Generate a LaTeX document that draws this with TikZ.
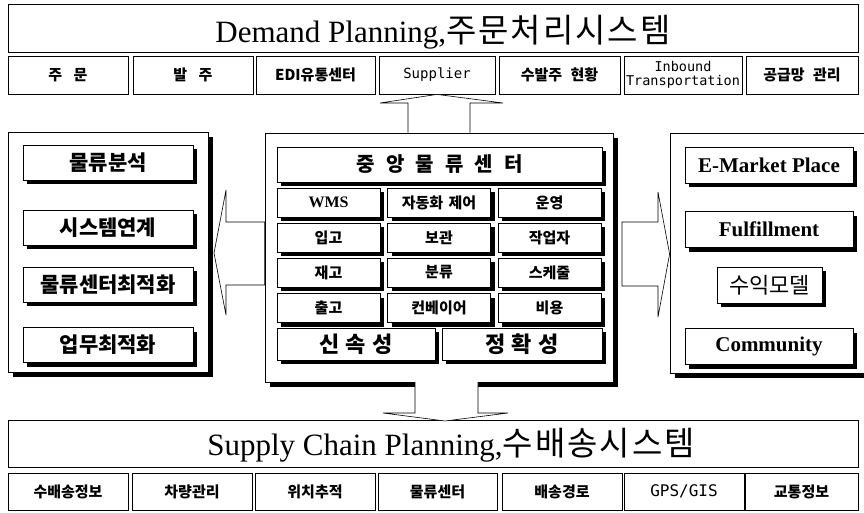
\documentclass[tikz,border=0pt]{standalone}
\usepackage{fontspec}
\setmainfont{Liberation Serif}
\newfontfamily\kr{Noto Sans CJK KR}
\newfontfamily\krt[LetterSpace=6]{Noto Sans CJK KR}
\newfontfamily\mono{DejaVu Sans Mono}
\newcommand\gp{\kern6.5pt}
\usetikzlibrary{shadows}
\tikzset{
  thinbox/.style={draw=black, line width=0.8pt, fill=white, inner sep=0pt},
  shbox/.style={thinbox, drop shadow={shadow xshift=4pt, shadow yshift=-4pt, fill=black, opacity=1}},
  bigbox/.style={thinbox, drop shadow={shadow xshift=5pt, shadow yshift=-5pt, fill=black, opacity=1}},
  rowbox/.style={thinbox, minimum height=38pt, font=\kr\bfseries\fontsize{15}{17}\selectfont},
  monotxt/.style={font=\mono\fontsize{14}{15}\selectfont},
  gbox/.style={shbox, minimum width=103pt, minimum height=29pt, font=\kr\bfseries\fontsize{15}{17}\selectfont},
  lbox/.style={shbox, minimum width=170pt, minimum height=35pt, font=\kr\bfseries\fontsize{21}{23}\selectfont},
  rbox/.style={shbox, minimum width=168pt, minimum height=36pt, font=\rmfamily\bfseries\fontsize{21}{23}\selectfont},
  barrow/.style={draw=black, line width=0.6pt, fill=white, line join=miter},
}
\begin{document}
\begin{tikzpicture}[x=1pt,y=-1pt]
\useasboundingbox (0,0) rectangle (864,512);
\fill[white] (0,0) rectangle (864,512);
\clip (0,0) rectangle (864,512);

% ---- top: Demand Planning
\node[thinbox, minimum width=850pt, minimum height=48pt] (dp) at (433,28) {};
\node[anchor=base, inner sep=0pt] (dpt) at (443,42) {\fontsize{31}{33}\selectfont Demand Planning,{\krt\fontsize{33}{35}\selectfont 주문처리시스템}};

\node[rowbox, minimum width=120pt] (t1) at (68,75) {주 \kern8pt 문};
\node[rowbox, minimum width=120pt] (t2) at (193,75) {발 \kern8pt 주};
\node[rowbox, minimum width=119pt] (t3) at (315.5,75) {EDI유통센터};
\node[rowbox, minimum width=116pt, monotxt] (t4) at (437,75) {Supplier};
\node[rowbox, minimum width=121pt] (t5) at (559.5,75) {수발주 \kern5pt 현황};
\node[rowbox, minimum width=118pt, align=center, font=\mono\fontsize{13.5}{14}\selectfont] (t6) at (683,75) {Inbound\\Transportation};
\node[rowbox, minimum width=112pt] (t7) at (802,75) {공급망 \kern5pt 관리};

% ---- bottom: Supply Chain Planning
\node[thinbox, minimum width=850pt, minimum height=47pt] (sc) at (433,443.5) {};
\node[anchor=base, inner sep=0pt] (sct) at (451,455) {\fontsize{31}{33}\selectfont Supply Chain Planning,{\krt\fontsize{33}{35}\selectfont 수배송시스템}};

\node[rowbox, minimum width=120pt, minimum height=37pt] (b1) at (68,491.5) {수배송정보};
\node[rowbox, minimum width=120pt, minimum height=37pt] (b2) at (192,491.5) {차량관리};
\node[rowbox, minimum width=120pt, minimum height=37pt] (b3) at (315,491.5) {위치추적};
\node[rowbox, minimum width=119pt, minimum height=37pt] (b4) at (437.5,491.5) {물류센터};
\node[rowbox, minimum width=120pt, minimum height=37pt] (b5) at (562,491.5) {배송경로};
\node[rowbox, minimum width=120pt, minimum height=37pt, font=\mono\fontsize{16}{17}\selectfont] (b6) at (684,491.5) {GPS/GIS};
\node[rowbox, minimum width=113pt, minimum height=37pt] (b7) at (801.5,491.5) {교통정보};

% ---- centre
\node[bigbox, minimum width=348pt, minimum height=249pt] (cb) at (439,257.5) {};
\node[shbox, minimum width=325pt, minimum height=35pt, font=\kr\bfseries\fontsize{20}{22}\selectfont] (cm) at (439.5,164.5) {중 \gp 앙 \gp 물 \gp 류 \gp 센 \gp 터};

\node[gbox, font=\rmfamily\bfseries\fontsize{16}{18}\selectfont] (g11) at (328.5,202.5) {WMS};
\node[gbox] (g12) at (439,202.5) {자동화 \kern2pt 제어};
\node[gbox] (g13) at (549.5,202.5) {운영};
\node[gbox] (g21) at (328.5,237.5) {입고};
\node[gbox] (g22) at (439,237.5) {보관};
\node[gbox] (g23) at (549.5,237.5) {작업자};
\node[gbox] (g31) at (328.5,272.5) {재고};
\node[gbox] (g32) at (439,272.5) {분류};
\node[gbox] (g33) at (549.5,272.5) {스케줄};
\node[gbox] (g41) at (328.5,308) {출고};
\node[gbox] (g42) at (439,308) {컨베이어};
\node[gbox] (g43) at (549.5,308) {비용};

\node[shbox, minimum width=158pt, minimum height=32pt, font=\kr\bfseries\fontsize{22}{24}\selectfont] (sp) at (356,344) {신 \kern1pt 속 \kern1pt 성};
\node[shbox, minimum width=160pt, minimum height=32pt, font=\kr\bfseries\fontsize{22}{24}\selectfont] (ac) at (522,344) {정 \kern1pt 확 \kern1pt 성};

% ---- left
\node[bigbox, minimum width=200pt, minimum height=240pt] (lb) at (108,252) {};
\node[lbox] (l1) at (108,162.5) {물류분석};
\node[lbox] (l2) at (108,227.5) {시스템연계};
\node[lbox] (l3) at (108,284.5) {물류센터최적화};
\node[lbox] (l4) at (108,345) {업무최적화};

% ---- right
\node[bigbox, minimum width=202pt, minimum height=240pt] (rb) at (771,253) {};
\node[rbox] (r1) at (769,165) {E-Market Place};
\node[rbox] (r2) at (769,229.5) {Fulfillment};
\node[shbox, minimum width=105pt, minimum height=36pt, font=\kr\fontsize{22}{24}\selectfont] (r3) at (769.5,285) {수익모델};
\node[rbox] (r4) at (769,346.5) {Community};

% ---- block arrows
\draw[barrow] ([xshift=-31pt]cb.north) -- (408,103) -- (380,103) -- (t4.south) -- (503,103) -- (470,103) -- ([xshift=31pt]cb.north);
\draw[barrow] (415,382) -- (415,413) -- (383,413) -- (445,421) -- (508,413) -- (478,413) -- (478,382);
\draw[barrow] (cb.west |- 0,222) -- (226,222) -- (226,190) -- (214,253) -- (226,315) -- (226,285) -- (cb.west |- 0,285) -- cycle;
\draw[barrow] (622,222) -- (658,222) -- (658,192) -- (rb.west |- 0,254) -- (658,317) -- (658,286) -- (622,286) -- cycle;
\end{tikzpicture}
\end{document}
